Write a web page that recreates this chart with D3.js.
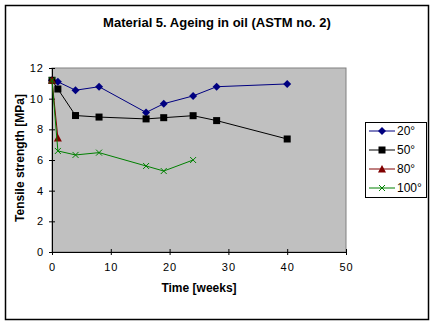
<!DOCTYPE html>
<html>
<head>
<meta charset="utf-8">
<script src="https://cdn.jsdelivr.net/npm/d3@7"></script>
<style>
  body { margin: 0; background: #fff; }
  svg text { font-family: Arial, "Liberation Sans", sans-serif; }
</style>
</head>
<body>
<svg id="chart" width="435" height="325"></svg>
<script>
// tensile strength [MPa] against ageing time [weeks], one series per oil temperature
const weeks20 = [0, 1, 4, 8, 16, 19, 24, 28, 40];
const mpa20   = [11.2, 11.1, 10.55, 10.78, 9.1, 9.67, 10.18, 10.78, 10.96];
const weeks50 = [0, 1, 4, 8, 16, 19, 24, 28, 40];
const mpa50   = [11.2, 10.63, 8.9, 8.8, 8.68, 8.76, 8.89, 8.57, 7.37];
const weeks80 = [0, 1];
const mpa80   = [11.2, 7.44];
const weeks100 = [0, 1, 4, 8, 16, 19, 24];
const mpa100   = [11.2, 6.59, 6.33, 6.48, 5.61, 5.28, 6.0];

const seriesNames = ["20°", "50°", "80°", "100°"];
const xTicks = [0, 10, 20, 30, 40, 50];
const yTicks = [0, 2, 4, 6, 8, 10, 12];

const series = [
    {name: seriesNames[0], xs: weeks20, ys: mpa20, color: "#000080", marker: "diamond"},
    {name: seriesNames[1], xs: weeks50, ys: mpa50, color: "#000000", marker: "square"},
    {name: seriesNames[2], xs: weeks80, ys: mpa80, color: "#800000", marker: "triangle"},
    {name: seriesNames[3], xs: weeks100, ys: mpa100, color: "#008000", marker: "cross"}
];

const svg = d3.select("#chart");

// chart frame
svg.append("rect")
    .attr("x", 5.5).attr("y", 5.5)
    .attr("width", 423).attr("height", 314)
    .attr("fill", "#fff")
    .attr("stroke", "#000")
    .attr("stroke-width", 1.5);

const plot = {left: 52, right: 346, top: 68, bottom: 252};

const x = d3.scaleLinear().domain([0, 50]).range([plot.left, plot.right]);
const y = d3.scaleLinear().domain([0, 12]).range([plot.bottom, plot.top]);

svg.append("rect")
    .attr("x", plot.left).attr("y", plot.top)
    .attr("width", plot.right - plot.left)
    .attr("height", plot.bottom - plot.top)
    .attr("fill", "#c0c0c0")
    .attr("stroke", "#808080")
    .attr("stroke-width", 1);

// axes with ticks crossing the axis line
const xAxis = svg.append("g")
    .attr("transform", `translate(0,${plot.bottom})`)
    .call(d3.axisBottom(x).tickValues(xTicks).tickSizeInner(3).tickSizeOuter(0).tickPadding(8));
xAxis.selectAll(".tick line").attr("y1", -3);

const yAxis = svg.append("g")
    .attr("transform", `translate(${plot.left},0)`)
    .call(d3.axisLeft(y).tickValues(yTicks).tickSizeInner(3).tickSizeOuter(0).tickPadding(5));
yAxis.selectAll(".tick line").attr("x1", 3);

svg.selectAll(".domain").attr("stroke", "#000").attr("stroke-width", 1);
svg.selectAll(".tick line").attr("stroke", "#000");
svg.selectAll(".tick text")
    .attr("font-size", 11)
    .attr("fill", "#000")
    .style("font-family", "Arial, 'Liberation Sans', sans-serif")
    .style("letter-spacing", "1px");

function drawMarker(g, type, color, cx, cy){
    if(type === "diamond"){
        g.append("path")
            .attr("d", `M${cx},${cy-4}L${cx+4},${cy}L${cx},${cy+4}L${cx-4},${cy}Z`)
            .attr("fill", color);
    } else if(type === "square"){
        g.append("rect")
            .attr("x", cx - 3.5).attr("y", cy - 3.5)
            .attr("width", 7).attr("height", 7)
            .attr("fill", color);
    } else if(type === "triangle"){
        g.append("path")
            .attr("d", `M${cx},${cy-4}L${cx+4},${cy+3.5}L${cx-4},${cy+3.5}Z`)
            .attr("fill", color);
    } else {
        g.append("path")
            .attr("d", `M${cx-3},${cy-3}L${cx+3},${cy+3}M${cx-3},${cy+3}L${cx+3},${cy-3}`)
            .attr("stroke", color)
            .attr("stroke-width", 1)
            .attr("fill", "none");
    }
}

const line = d3.line().x(d => x(d[0])).y(d => y(d[1]));

series.forEach(s => {
    const pts = s.xs.map((v, i) => [v, s.ys[i]]);
    const g = svg.append("g").attr("class", "series");
    g.append("path")
        .attr("d", line(pts))
        .attr("fill", "none")
        .attr("stroke", s.color)
        .attr("stroke-width", 1);
    pts.forEach(p => drawMarker(g, s.marker, s.color, x(p[0]), y(p[1])));
});

// title and axis titles
svg.append("text")
    .attr("x", 217).attr("y", 27)
    .attr("text-anchor", "middle")
    .attr("font-size", 13).attr("font-weight", "bold")
    .text("Material 5. Ageing in oil (ASTM no. 2)");

svg.append("text")
    .attr("x", 199).attr("y", 292)
    .attr("text-anchor", "middle")
    .attr("font-size", 12).attr("font-weight", "bold")
    .text("Time [weeks]");

svg.append("text")
    .attr("transform", "translate(24,158) rotate(-90)")
    .attr("text-anchor", "middle")
    .attr("font-size", 12).attr("font-weight", "bold")
    .text("Tensile strength [MPa]");

// legend
const legend = svg.append("g");
legend.append("rect")
    .attr("x", 365.5).attr("y", 122.5)
    .attr("width", 61).attr("height", 75)
    .attr("fill", "#fff")
    .attr("stroke", "#000")
    .attr("stroke-width", 1);

series.forEach((s, i) => {
    const ly = 131 + i * 19;
    legend.append("line")
        .attr("x1", 369).attr("x2", 395)
        .attr("y1", ly).attr("y2", ly)
        .attr("stroke", s.color);
    drawMarker(legend, s.marker, s.color, 382, ly);
    legend.append("text")
        .attr("x", 397).attr("y", ly + 4)
        .attr("font-size", 12)
        .text(s.name);
});
</script>
</body>
</html>
